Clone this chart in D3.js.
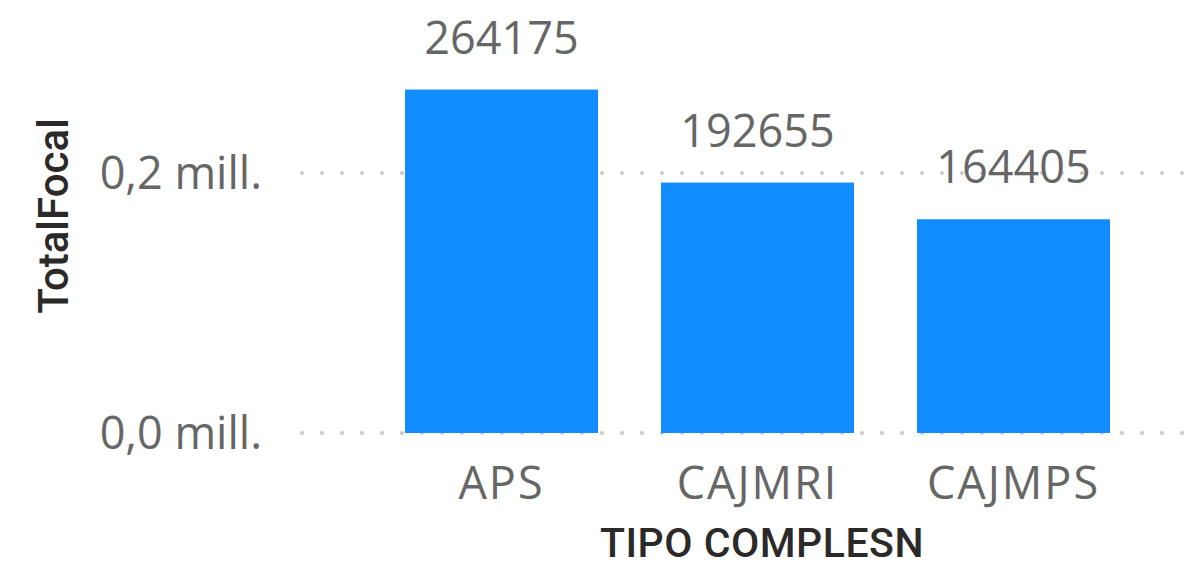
<!DOCTYPE html>
<html lang="es">
<head>
    <meta charset="UTF-8">
    <title>TotalFocal por TIPO COMPLESN</title>
    <script src="https://d3js.org/d3.v7.min.js"></script>
    <style>
        body { margin: 0; background: #fff; }
        .lbl { font-family: "Open Sans", "Noto Sans", sans-serif; fill: #666; }
        .title { font-family: Roboto, "DejaVu Sans", sans-serif; font-weight: 500; fill: #2b2a29; }
    </style>
</head>
<body>
    <div id="chart"></div>
    <script>
        // data
        const categories = ["APS", "CAJMRI", "CAJMPS"];
        const values = [264175, 192655, 164405];
        const yTicks = [0, 200000];
        const yTickLabels = ["0,0 mill.", "0,2 mill."];

        const W = 1199, H = 567;
        const baseY = 433, gridLeft = 302, gridRight = 1186;

        const svg = d3.select("#chart").append("svg")
            .attr("width", W)
            .attr("height", H);

        const y = d3.scaleLinear()
            .domain([0, 200000])
            .range([baseY, 173]);

        const x = d3.scaleBand()
            .domain(categories)
            .range([405 - 0.246 * 256 / 2, 405 - 0.246 * 256 / 2 + 3 * 256])
            .paddingInner(0.246)
            .paddingOuter(0.123);

        // gridlines (dotted)
        svg.selectAll(".grid")
            .data(yTicks)
            .enter()
            .append("line")
            .attr("x1", gridLeft)
            .attr("x2", gridRight)
            .attr("y1", d => y(d))
            .attr("y2", d => y(d))
            .attr("stroke", "#c8c8c8")
            .attr("stroke-width", 4)
            .attr("stroke-linecap", "round")
            .attr("stroke-dasharray", "0,20");

        // y tick labels
        svg.selectAll(".ytick")
            .data(yTicks)
            .enter()
            .append("text")
            .attr("class", "lbl")
            .attr("x", 262)
            .attr("y", d => y(d))
            .attr("dy", "0.35em")
            .attr("text-anchor", "end")
            .style("font-size", "45px")
            .text((d, i) => yTickLabels[i]);

        // bars
        svg.selectAll(".bar")
            .data(values)
            .enter()
            .append("rect")
            .attr("x", (d, i) => x(categories[i]))
            .attr("y", d => y(d))
            .attr("width", x.bandwidth())
            .attr("height", d => baseY - y(d))
            .attr("fill", "#118dff");

        // data labels
        svg.selectAll(".val")
            .data(values)
            .enter()
            .append("text")
            .attr("class", "lbl")
            .attr("x", (d, i) => x(categories[i]) + x.bandwidth() / 2)
            .attr("y", d => y(d) - 36)
            .attr("text-anchor", "middle")
            .style("font-size", "45px")
            .text(d => d);

        // x tick labels
        svg.selectAll(".xtick")
            .data(categories)
            .enter()
            .append("text")
            .attr("class", "lbl")
            .attr("x", d => x(d) + x.bandwidth() / 2)
            .attr("y", 499)
            .attr("text-anchor", "middle")
            .style("font-size", "45px")
            .style("letter-spacing", "2px")
            .text(d => d);

        // axis titles
        svg.append("text")
            .attr("class", "title")
            .attr("x", 762)
            .attr("y", 557)
            .attr("text-anchor", "middle")
            .style("font-size", "41px")
            .style("letter-spacing", "0.5px")
            .text("TIPO COMPLESN");

        svg.append("text")
            .attr("class", "title")
            .attr("transform", "translate(68,216) rotate(-90)")
            .attr("text-anchor", "middle")
            .style("font-size", "42px")
            .text("TotalFocal");
    </script>
</body>
</html>
